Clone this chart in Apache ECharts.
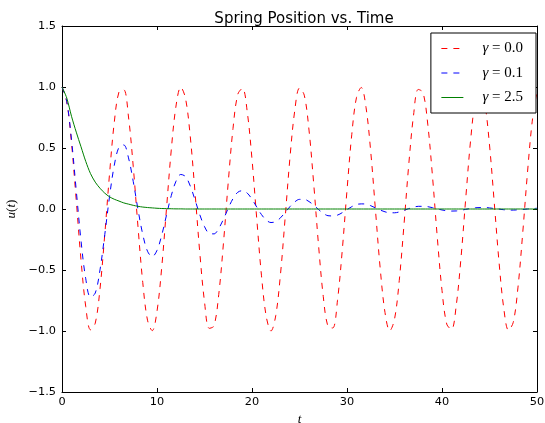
<!DOCTYPE html>
<html><head><meta charset="utf-8">
<script src="https://cdn.jsdelivr.net/npm/echarts@6/dist/echarts.min.js"></script>
<style>html,body{margin:0;padding:0;background:#fff}#c{width:545px;height:423px}</style>
</head><body><div id="c"></div>
<script>
// time samples
const tValues = [0,0.5,1,1.5,2,2.5,3,3.5,4,4.5,5,5.5,6,6.5,7,7.5,8,8.5,9,9.5,10,10.5,11,11.5,12,12.5,13,13.5,14,14.5,15,15.5,16,16.5,17,17.5,18,18.5,19,19.5,20,20.5,21,21.5,22,22.5,23,23.5,24,24.5,25,25.5,26,26.5,27,27.5,28,28.5,29,29.5,30,30.5,31,31.5,32,32.5,33,33.5,34,34.5,35,35.5,36,36.5,37,37.5,38,38.5,39,39.5,40,40.5,41,41.5,42,42.5,43,43.5,44,44.5,45,45.5,46,46.5,47,47.5,48,48.5,49,49.5,50];
// gamma = 0.0
const uGamma00 = [1.000,0.878,0.540,0.071,-0.416,-0.801,-0.990,-0.936,-0.654,-0.211,0.284,0.709,0.960,0.977,0.754,0.347,-0.146,-0.602,-0.911,-0.997,-0.839,-0.476,0.004,0.483,0.844,0.998,0.907,0.595,0.137,-0.355,-0.760,-0.978,-0.958,-0.700,-0.275,0.220,0.660,0.939,0.989,0.796,0.408,-0.080,-0.548,-0.882,-1.000,-0.873,-0.533,-0.062,0.424,0.806,0.991,0.933,0.647,0.202,-0.292,-0.716,-0.963,-0.975,-0.748,-0.339,0.154,0.609,0.915,0.996,0.834,0.468,-0.013,-0.491,-0.849,-0.998,-0.904,-0.587,-0.128,0.363,0.765,0.980,0.955,0.696,0.267,-0.228,-0.667,-0.943,-0.987,-0.790,-0.400,0.088,0.555,0.886,1.000,0.869,0.525,0.053,-0.432,-0.812,-0.993,-0.929,-0.640,-0.194,0.300,0.720,0.965];
// gamma = 0.1
const uGamma01 = [1.000,0.882,0.568,0.153,-0.259,-0.572,-0.722,-0.689,-0.499,-0.211,0.100,0.357,0.507,0.525,0.419,0.225,-0.004,-0.208,-0.346,-0.390,-0.339,-0.214,-0.050,0.109,0.228,0.283,0.266,0.189,0.075,-0.046,-0.144,-0.200,-0.204,-0.159,-0.083,0.006,0.085,0.137,0.150,0.130,0.080,0.016,-0.046,-0.091,-0.111,-0.103,-0.072,-0.027,0.020,0.058,0.079,0.079,0.061,0.031,-0.004,-0.035,-0.055,-0.057,-0.050,-0.030,-0.005,0.019,0.037,0.042,0.040,0.027,0.009,-0.009,-0.023,-0.031,-0.031,-0.024,-0.011,0.003,0.015,0.022,0.022,0.019,0.011,0.001,-0.008,-0.014,-0.017,-0.016,-0.010,-0.003,0.004,0.010,0.012,0.012,0.009,0.004,-0.001,-0.006,-0.009,-0.009,-0.007,-0.004,0.000,0.003,0.006];
// gamma = 2.5
const uGamma25 = [1.000,0.91,0.76,0.63,0.51,0.39,0.29,0.22,0.17,0.13,0.10,0.08,0.065,0.05,0.04,0.03,0.022,0.016,0.012,0.009,0.006,0.004,0.003,0.002,0.001,0.001,0,0,0,0,0,0,0,0,0,0,0,0,0,0,0,0,0,0,0,0,0,0,0,0,0,0,0,0,0,0,0,0,0,0,0,0,0,0,0,0,0,0,0,0,0,0,0,0,0,0,0,0,0,0,0,0,0,0,0,0,0,0,0,0,0,0,0,0,0,0,0,0,0,0,0];
const seriesNames = ['γ=0.0','γ=0.1','γ=2.5'];
const seriesColors = ['#ff0000','#0000ff','#008000'];
const seriesDash = [[6,6],[6,6],'solid'];
const xTicks = [0,10,20,30,40,50];
const yTicks = [-1.5,-1.0,-0.5,0.0,0.5,1.0,1.5];

const allData = [uGamma00, uGamma01, uGamma25];
const chart = echarts.init(document.getElementById('c'), null, {renderer:'canvas'});
const fmtY = v => (v < 0 ? '\u2212' : '') + Math.abs(v).toFixed(1);
const axBase = {
  type:'value', splitLine:{show:false},
  axisLine:{show:true, onZero:false, lineStyle:{color:'#000', width:1}},
  axisTick:{show:true, inside:true, length:4, lineStyle:{color:'#000', width:1}}
};
const option = {
  animation:false,
  backgroundColor:'#fff',
  title:{text:'Spring Position vs. Time', left:299, top:7, textAlign:'center',
    textStyle:{fontFamily:'DejaVu Sans', fontSize:15, fontWeight:'normal', color:'#000'}},
  grid:{left:62, right:8, top:26, bottom:31, containLabel:false, outerBoundsMode:'none'},
  legend:{
    data:seriesNames, orient:'vertical', right:9, top:33,
    backgroundColor:'#fff', borderColor:'#000', borderWidth:1, borderRadius:0,
    padding:[8,13,8,10], itemWidth:22, itemHeight:10, itemGap:9.5,
    itemStyle:{opacity:0},
    lineStyle:{width:1},
    formatter: n => '{g|γ}{v|' + n.slice(1).replace('=', ' = ') + '}',
    textStyle:{ rich:{
      g:{fontFamily:'Liberation Serif', fontStyle:'italic', fontSize:15, color:'#000', padding:[0,0,0,14]},
      v:{fontFamily:'Liberation Serif', fontSize:15, color:'#000'}
    }}
  },
  xAxis:[
    Object.assign({}, axBase, {min:xTicks[0], max:xTicks[xTicks.length-1], interval:10, position:'bottom',
      axisLabel:{margin:5, fontFamily:'DejaVu Sans', fontSize:11.3, color:'#000'},
      name:'t', nameLocation:'middle', nameGap:19,
      nameTextStyle:{fontFamily:'Liberation Serif', fontStyle:'italic', fontSize:13, color:'#000'}}),
    Object.assign({}, axBase, {min:xTicks[0], max:xTicks[xTicks.length-1], interval:10, position:'top',
      axisLabel:{show:false}})
  ],
  yAxis:[
    Object.assign({}, axBase, {min:yTicks[0], max:yTicks[yTicks.length-1], interval:0.5, position:'left',
      axisLabel:{margin:6, fontFamily:'DejaVu Sans', fontSize:11.3, color:'#000', formatter:fmtY},
      name:'{i|u}{n|(}{i|t}{n|)}', nameLocation:'middle', nameGap:44, nameRotate:90,
      nameTextStyle:{rich:{
        i:{fontFamily:'Liberation Serif', fontStyle:'italic', fontSize:13, color:'#000'},
        n:{fontFamily:'Liberation Serif', fontSize:13, color:'#000'}}}}),
    Object.assign({}, axBase, {min:yTicks[0], max:yTicks[yTicks.length-1], interval:0.5, position:'right',
      axisLabel:{show:false}})
  ],
  series: seriesNames.map((name, k) => ({
    name, type:'line', xAxisIndex:0, yAxisIndex:0,
    data: tValues.map((t, i) => [t, allData[k][i]]),
    symbol:'none', smooth: k < 2 ? 0.35 : 0.3,
    color: seriesColors[k],
    lineStyle:{color:seriesColors[k], width:1, type:seriesDash[k]},
    z: 2 + k
  }))
};
chart.setOption(option);
</script>
</body></html>
